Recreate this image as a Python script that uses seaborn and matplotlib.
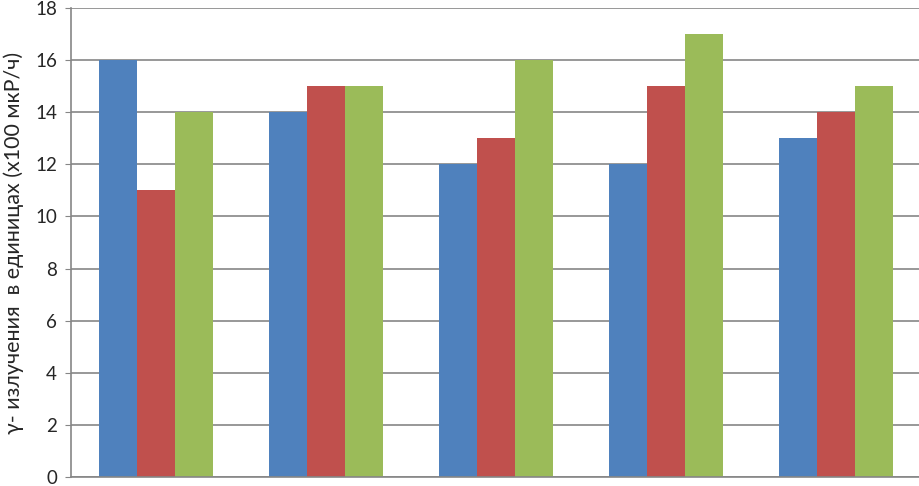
import matplotlib
matplotlib.use("Agg")
import matplotlib.pyplot as plt
import seaborn as sns
import pandas as pd

# данные
groups = ["1", "2", "3", "4", "5"]
series_names = ["Ряд 1", "Ряд 2", "Ряд 3"]
ser1 = [16, 14, 12, 12, 13]
ser2 = [11, 15, 13, 15, 14]
ser3 = [14, 15, 16, 17, 15]
colors = ["#4F81BD", "#C0504D", "#9BBB59"]
y_ticks = [0, 2, 4, 6, 8, 10, 12, 14, 16, 18]

df = pd.DataFrame({
    "group": groups * 3,
    "series": [series_names[0]] * 5 + [series_names[1]] * 5 + [series_names[2]] * 5,
    "value": ser1 + ser2 + ser3,
})

sns.set_style("white")
plt.rcParams['font.family'] = ['Lato', 'DejaVu Sans']

fig = plt.figure(figsize=(9.2, 4.86), dpi=100)
ax = fig.add_axes([71 / 920, 9 / 486, 850 / 920, 469 / 486])

sns.barplot(data=df, x="group", y="value", hue="series", palette=colors,
            width=0.67, gap=0, saturation=1, legend=False, linewidth=0, ax=ax)

ax.set_ylim(0, 18)
ax.set_xlim(-0.5, 4.5)
ax.set_yticks(y_ticks)
ax.yaxis.grid(True, color="#868686", linewidth=1.2)
ax.set_axisbelow(True)
ax.set_xticks([])
ax.set_xlabel("")
ax.set_ylabel("γ- излучения  в единицах (x100 мкР/ч)", fontsize=15.5, labelpad=8)
ax.tick_params(axis="y", labelsize=13.5, length=4, color="#868686", left=True, pad=6)

for s in ["top", "right"]:
    ax.spines[s].set_visible(False)
for s in ["left", "bottom"]:
    ax.spines[s].set_color("#868686")
    ax.spines[s].set_linewidth(1.2)

fig.savefig("out.png", dpi=100)
